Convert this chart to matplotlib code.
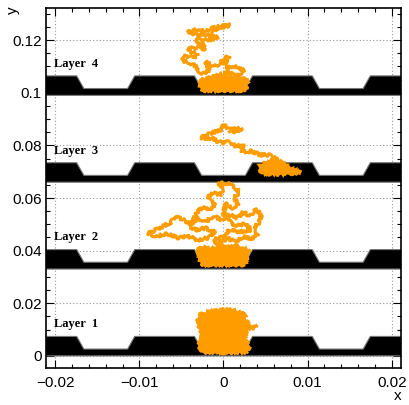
import matplotlib
matplotlib.use('Agg')
import matplotlib.pyplot as plt
from matplotlib.patches import Polygon
from matplotlib.ticker import MultipleLocator, FuncFormatter

MM = 1e-3  # all values below are in mm

# # detector layers
layer_base = [0.0, 33.0, 66.0, 99.0]
layer_names = ['Layer  1', 'Layer  2', 'Layer  3', 'Layer  4']
trench_centres = [-14.0, 0.0, 14.0]
trench_top_half = 3.45
trench_bot_half = 2.6
floor_h = 2.6
ridge_h = 7.4

# # charge clouds sitting in / on the layers (outlines)
blob1_x = [-2.46, -1.66, -0.48, 1.10, 1.90, 2.49, 2.70, 2.29, 2.89, 3.29, 4.08, 3.68, 2.89, 2.70,
           2.61, 2.89, 3.09, 2.77, -0.08, -2.46, -2.85, -2.93, -2.65, -2.65, -2.85, -3.05, -3.24,
           -2.85, -3.05]
blob1_y = [16.22, 17.21, 17.74, 17.74, 16.83, 16.22, 14.93, 14.32, 13.03, 11.77, 11.13, 10.52, 10.14,
           8.62, 6.72, 4.82, 2.92, 1.25, 1.03, 1.25, 2.54, 4.82, 6.72, 8.62, 10.52, 11.77, 13.03,
           14.32, 15.57]

blob2_x = [-2.65, -3.25, -2.5, -1.5, -0.5, 0.5, 1.5, 2.5, 3.1, 2.6]
blob2_y = [34.4, 40.5, 41.5, 41.0, 42.0, 41.5, 42.2, 41.0, 40.5, 34.4]

blob3_x = [4.28, 5.07, 5.67, 5.79, 6.18, 6.45, 7.25, 7.84, 8.64, 9.23, 8.64, 7.45, 5.86, 4.67, 4.36]
blob3_y = [72.66, 73.68, 74.17, 75.47, 75.69, 74.55, 73.30, 72.05, 70.76, 69.88, 69.12, 68.86,
           68.86, 69.12, 70.15]

blob4_x = [-2.65, -2.97, -2.46, -1.46, -0.28, 0.71, 1.90, 2.97, 2.70]
blob4_y = [100.65, 104.18, 105.47, 106.08, 107.37, 106.08, 105.70, 105.47, 100.65]

# # walk traces
walk2_x = [0.0, -0.71, 0.48, 1.43, 2.38, 3.33, 4.04, 3.56, 4.28, 4.51, 3.80, 3.09, 2.38, 1.66,
           0.71, -0.24, -1.19, -2.14, -3.09, -3.80, -4.75, -5.70, -6.18, -7.13, -8.08, -9.03,
           -7.84, -6.65, -5.46, -4.28, -3.09, -1.90, -0.95, -2.14, -3.33, -4.04, -3.09, -2.38,
           -1.66, -0.95, -1.90, -1.19, -0.48, 0.0, -0.71, 0.24, 1.19, 1.90, 1.19, 1.90, 0.95,
           0.24, 0.0, 1.19, 2.61, 3.33, 1.90, 0.71, 0.0, -1.19, -0.48]
walk2_y = [40.26, 42.54, 44.82, 43.30, 45.58, 44.06, 46.34, 48.61, 50.89, 53.93, 55.45, 53.17,
           54.69, 52.41, 53.93, 51.65, 53.17, 50.89, 52.41, 50.13, 51.65, 53.17, 50.89, 49.37,
           47.85, 46.34, 45.58, 46.34, 44.82, 45.58, 44.06, 44.82, 47.10, 48.61, 47.85, 49.37,
           54.69, 56.97, 55.45, 57.73, 60.01, 62.29, 60.77, 63.81, 65.33, 65.71, 64.57, 62.29,
           60.01, 57.73, 56.21, 57.73, 53.93, 49.37, 50.13, 47.85, 47.10, 47.85, 45.58, 44.06,
           41.78]

walk3_x = [5.86, 5.46, 4.87, 4.28, 3.88, 3.29, 2.70, 2.10, 1.90, 2.49, 1.90, 1.31, 1.03, 0.51,
           -0.08, -0.68, -1.27, -1.87, -2.65, -2.26, -1.66, -1.07, -0.48, -0.08, -0.08, 0.32,
           0.91, 1.51, 2.22, 1.51, 0.71]
walk3_y = [75.47, 76.22, 76.45, 76.22, 77.10, 77.74, 77.48, 77.97, 79.26, 79.64, 80.25, 79.64,
           80.90, 81.28, 80.90, 81.54, 82.53, 82.80, 82.53, 83.82, 84.32, 85.08, 85.57, 86.59,
           87.85, 86.86, 85.95, 86.33, 86.33, 85.34, 85.08]

walk4_x = [0.12, -0.71, 0.48, 1.66, 2.38, 1.43, 0.48, -0.24, 0.71, 0.24, -1.19, -2.14, -1.66,
           -2.61, -3.33, -4.28, -4.99, -4.51, -3.33, -3.09, -4.28, -3.56, -2.14, -2.38, -3.33,
           -2.85, -1.43, -0.71, -1.90, -3.33, -4.28, -3.56, -2.14, -1.19, -0.24, 0.71, -0.48,
           -1.43]
walk4_y = [102.9, 105.6, 107.9, 106.3, 108.6, 110.1, 109.4, 112.4, 113.9, 111.7, 110.1, 111.7,
           108.6, 107.1, 110.1, 111.7, 112.4, 113.9, 113.2, 114.7, 116.2, 117.4, 116.6, 118.5,
           119.3, 120.8, 120.0, 121.2, 121.9, 122.3, 123.1, 123.8, 123.4, 124.6, 125.3, 125.7,
           124.6, 123.4]

orange = '#ff9c00'

fig = plt.figure(figsize=(4.09, 4.05), dpi=100)
ax = fig.add_axes([46 / 409, 37 / 405, 355 / 409, 360 / 405])

for base in layer_base:
    pts = [(-25.0, base), (-25.0, base + ridge_h)]
    for c in trench_centres:
        pts += [(c - trench_top_half, base + ridge_h), (c - trench_bot_half, base + floor_h),
                (c + trench_bot_half, base + floor_h), (c + trench_top_half, base + ridge_h)]
    pts += [(25.0, base + ridge_h), (25.0, base)]
    pts = [(px * MM, py * MM) for px, py in pts]
    ax.add_patch(Polygon(pts, closed=True, facecolor='black', edgecolor='#777777',
                         linewidth=0.8, zorder=2))

# rough, hand-drawn look for the clouds and traces (rendering style only)
for bx, by in [(blob1_x, blob1_y), (blob2_x, blob2_y), (blob3_x, blob3_y), (blob4_x, blob4_y)]:
    patches = ax.fill([v * MM for v in bx], [v * MM for v in by], facecolor=orange,
                      edgecolor=orange, lw=1.5, zorder=3)
    for p in patches:
        p.set_sketch_params(1.2, 3, 6)

for wx, wy in [(walk2_x, walk2_y), (walk3_x, walk3_y), (walk4_x, walk4_y)]:
    line, = ax.plot([v * MM for v in wx], [v * MM for v in wy], color=orange, lw=2.2,
                    solid_joinstyle='round', zorder=3)
    line.set_sketch_params(1.5, 3, 6)

for base, name in zip(layer_base, layer_names):
    ax.text(-20.2 * MM, (base + 12.0) * MM, name, family='Liberation Serif', weight='bold',
            fontsize=9, ha='left', va='center', zorder=4)

ax.set_xlim(-0.0211, 0.0211)
ax.set_ylim(-0.0046, 0.1322)

ax.xaxis.set_major_locator(MultipleLocator(0.01))
ax.xaxis.set_minor_locator(MultipleLocator(0.002))
ax.yaxis.set_major_locator(MultipleLocator(0.02))
ax.yaxis.set_minor_locator(MultipleLocator(0.005))
fmt = FuncFormatter(lambda v, p: ('%g' % round(v, 6)).replace('-', '\u2212'))
ax.xaxis.set_major_formatter(fmt)
ax.yaxis.set_major_formatter(fmt)

ax.grid(True, which='major', color='#999999', linestyle=(0, (1, 2)), linewidth=0.8, zorder=0)
ax.set_axisbelow(True)

ax.tick_params(which='both', direction='in', top=True, right=True, width=0.8)
ax.tick_params(which='major', length=6)
ax.tick_params(which='minor', length=3)
ax.tick_params(axis='x', pad=6)
ax.tick_params(axis='y', pad=3)
for lab in ax.get_xticklabels() + ax.get_yticklabels():
    lab.set_family('Liberation Sans')
    lab.set_fontsize(11)
for s in ax.spines.values():
    s.set_linewidth(1.2)

fig.text(401 / 409, 1 - 396 / 405, 'x', family='Liberation Sans', fontsize=11,
         ha='right', va='center')
fig.text(13 / 409, 1 - 6 / 405, 'y', family='Liberation Sans', fontsize=11,
         rotation=90, ha='center', va='top')

fig.savefig('out.png', dpi=100)
